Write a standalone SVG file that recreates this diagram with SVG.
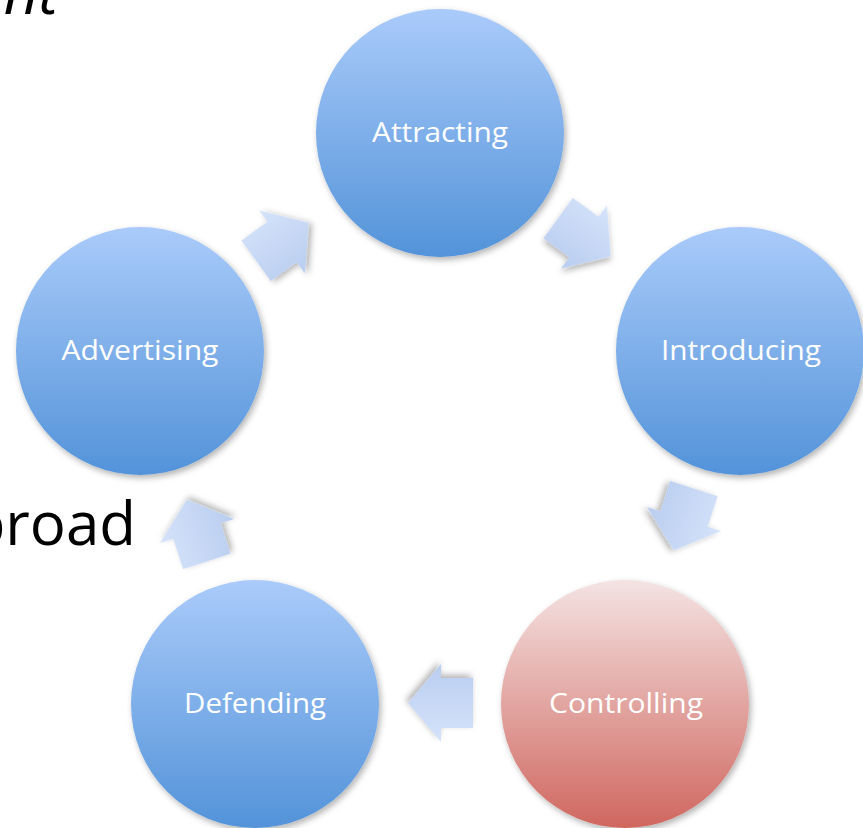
<svg xmlns="http://www.w3.org/2000/svg" width="863" height="828" viewBox="0 0 863 828">
<defs>
<linearGradient id="gBlue" x1="0" y1="0" x2="0" y2="1">
<stop offset="0" stop-color="#aacbfa"/>
<stop offset="1" stop-color="#5393d9"/>
</linearGradient>
<linearGradient id="gRed" x1="0" y1="0" x2="0" y2="1">
<stop offset="0" stop-color="#f4e3e3"/>
<stop offset="1" stop-color="#d0675f"/>
</linearGradient>
<linearGradient id="gArrow" x1="0" y1="0" x2="0" y2="1">
<stop offset="0" stop-color="#d5e3fa"/>
<stop offset="1" stop-color="#b9cdf0"/>
</linearGradient>
<filter id="sh" x="-20%" y="-20%" width="140%" height="140%">
<feDropShadow dx="2" dy="3" stdDeviation="3" flood-color="#000" flood-opacity="0.3"/>
</filter>
<path id="arr" d="M-32,-25 L0,-25 L0,-39 L33,0 L0,39 L0,25 L-32,25 Z"/>
<style>
.lbl{font-family:"Open Sans","Liberation Sans",sans-serif;font-size:27px;fill:#fff;text-anchor:middle}
.big{font-family:"Open Sans","Liberation Sans",sans-serif;font-size:60px;fill:#000}
.a{fill:url(#gArrow);filter:url(#sh)}
</style>
</defs>
<text class="big" x="58" y="14" text-anchor="end" font-style="italic">nt</text>
<text class="big" x="136" y="545" text-anchor="end">broad</text>
<g id="connectors">
<use href="#arr" class="a" transform="translate(584,237) rotate(36)"/>
<use href="#arr" class="a" transform="translate(684,519) rotate(108)"/>
<use href="#arr" class="a" transform="translate(441,703) rotate(180)"/>
<use href="#arr" class="a" transform="translate(197,531) rotate(252)"/>
<use href="#arr" class="a" transform="translate(282,242) rotate(-36)"/>
</g>
<g id="attracting">
<circle cx="440" cy="133" r="124" fill="url(#gBlue)" filter="url(#sh)"/>
<text class="lbl" x="440" y="142" textLength="136" lengthAdjust="spacingAndGlyphs">Attracting</text>
</g>
<g id="introducing">
<circle cx="740" cy="351" r="124" fill="url(#gBlue)" filter="url(#sh)"/>
<text class="lbl" x="741" y="360" textLength="160" lengthAdjust="spacingAndGlyphs">Introducing</text>
</g>
<g id="controlling">
<circle cx="625" cy="704" r="124" fill="url(#gRed)" filter="url(#sh)"/>
<text class="lbl" x="626" y="713" textLength="154" lengthAdjust="spacingAndGlyphs">Controlling</text>
</g>
<g id="defending">
<circle cx="255" cy="704" r="124" fill="url(#gBlue)" filter="url(#sh)"/>
<text class="lbl" x="255" y="713" textLength="142" lengthAdjust="spacingAndGlyphs">Defending</text>
</g>
<g id="advertising">
<circle cx="140" cy="351" r="124" fill="url(#gBlue)" filter="url(#sh)"/>
<text class="lbl" x="140" y="360" textLength="157" lengthAdjust="spacingAndGlyphs">Advertising</text>
</g>
</svg>
